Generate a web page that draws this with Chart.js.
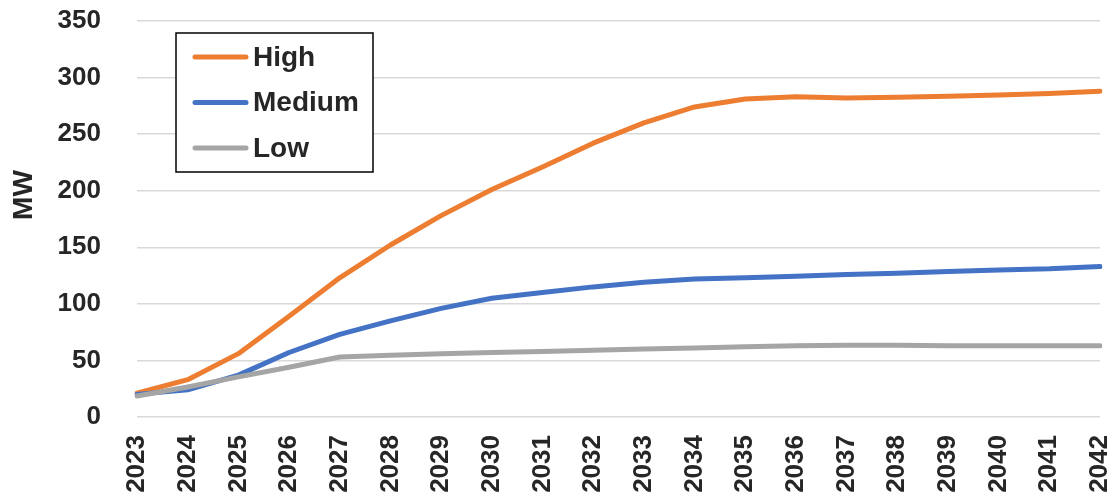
<!DOCTYPE html>
<html>
<head>
<meta charset="utf-8">
<script src="https://cdn.jsdelivr.net/npm/chart.js@4"></script>
<style>
  html, body { margin: 0; padding: 0; background: #fff; }
  #wrap { width: 1114px; height: 498px; position: relative; }
</style>
</head>
<body>
<div id="wrap"><canvas id="chart"></canvas></div>
<script>
const years = ["2023", "2024", "2025", "2026", "2027", "2028", "2029", "2030", "2031", "2032",
               "2033", "2034", "2035", "2036", "2037", "2038", "2039", "2040", "2041", "2042"];
const high = [21, 33, 56, 89, 123, 152, 178, 201, 221, 242, 260, 274, 281, 283, 282, 282.5, 283.5, 284.5, 286, 288];
const medium = [20, 24, 37, 57, 73, 85, 96, 105, 110, 115, 119, 122, 123, 124.5, 126, 127, 128.5, 130, 131, 133];
const low = [18.5, 26.5, 35.5, 44, 53, 54.5, 56, 57, 58, 59, 60, 61, 62, 63, 63.5, 63.5, 63, 63, 63, 63];
const yTicks = [0, 50, 100, 150, 200, 250, 300, 350];
const yTitle = "MW";

const FONT = "'Liberation Sans', Arial, sans-serif";
const TEXT = "#262626";

// boxed legend sitting inside the plot, upper left, plus the rotated unit label
const boxLegend = {
  id: "boxLegend",
  afterDraw(chart) {
    const ctx = chart.ctx;
    const x = 176, y = 33, w = 197, h = 139;
    ctx.save();
    ctx.fillStyle = "#fff";
    ctx.fillRect(x, y, w, h);
    ctx.strokeStyle = "#000";
    ctx.lineWidth = 1.5;
    ctx.strokeRect(x, y, w, h);
    ctx.font = "bold 28px " + FONT;
    ctx.textBaseline = "middle";
    ctx.lineCap = "round";
    chart.data.datasets.forEach((ds, i) => {
      const cy = 57 + i * 45.5;
      ctx.strokeStyle = ds.borderColor;
      ctx.lineWidth = 5;
      ctx.beginPath();
      ctx.moveTo(195, cy);
      ctx.lineTo(246, cy);
      ctx.stroke();
      ctx.fillStyle = TEXT;
      ctx.fillText(ds.label, 253, cy + 1);
    });

    ctx.translate(23, 195);
    ctx.rotate(-Math.PI / 2);
    ctx.textAlign = "center";
    ctx.font = "bold 28px " + FONT;
    ctx.fillStyle = TEXT;
    ctx.fillText(yTitle, 0, 1);
    ctx.restore();
  }
};

const line = (label, data, color, order) => ({
  label, data, order,
  borderColor: color,
  backgroundColor: color,
  borderWidth: 5,
  pointRadius: 0,
  tension: 0,
  borderCapStyle: "round",
  borderJoinStyle: "round"
});

// drop the extra room the scales ask for around the plot
const noPad = scale => {
  scale.paddingTop = 0;
  scale.paddingBottom = 0;
  scale.paddingLeft = 0;
  scale.paddingRight = 0;
};

new Chart(document.getElementById("chart"), {
  type: "line",
  data: {
    labels: years,
    datasets: [
      line("High", high, "#ED7D31", 2),
      line("Medium", medium, "#4472C4", 1),
      line("Low", low, "#A5A5A5", 0)
    ]
  },
  options: {
    responsive: true,
    maintainAspectRatio: false,
    animation: false,
    layout: { padding: { top: 21, right: 14, left: 0, bottom: 0 } },
    plugins: {
      legend: { display: false },
      tooltip: { enabled: false }
    },
    scales: {
      x: {
        offset: false,
        grid: { display: false, drawTicks: false },
        border: { display: false },
        ticks: {
          minRotation: 90,
          maxRotation: 90,
          autoSkip: false,
          padding: 18,
          color: TEXT,
          font: { family: FONT, size: 26, weight: "bold" }
        },
        afterFit(scale) { scale.height = 81; noPad(scale); }
      },
      y: {
        min: 0,
        max: 350,
        afterBuildTicks(scale) { scale.ticks = yTicks.map(v => ({ value: v })); },
        grid: { color: "#D9D9D9", lineWidth: 1.5, drawTicks: false },
        border: { display: false },
        ticks: {
          padding: 36,
          color: TEXT,
          font: { family: FONT, size: 26, weight: "bold" }
        },
        afterFit(scale) { scale.width = 137; noPad(scale); }
      }
    }
  },
  plugins: [boxLegend]
});
</script>
</body>
</html>
